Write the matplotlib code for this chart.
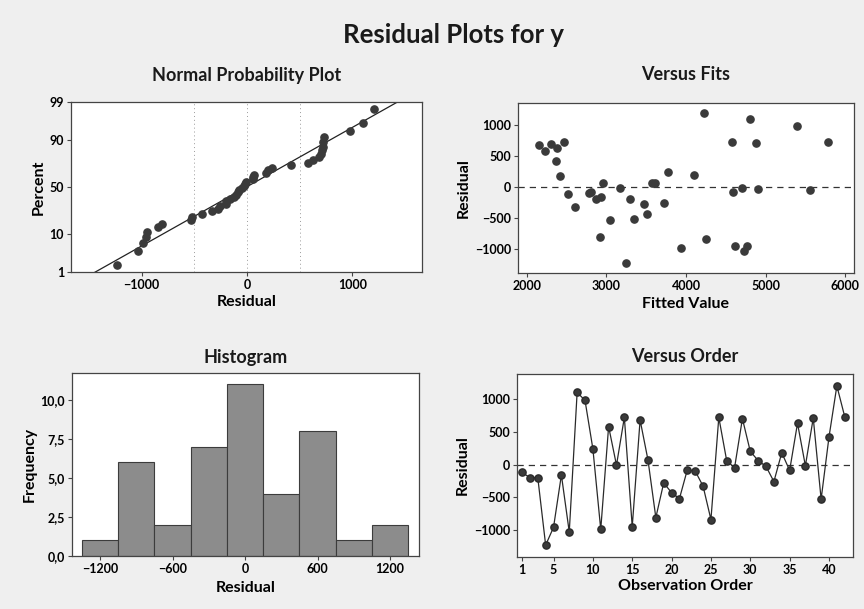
import numpy as np
import matplotlib
matplotlib.use("Agg")
from matplotlib import pyplot as plt
from statistics import NormalDist

plt.rcParams['font.family'] = ['Lato', 'DejaVu Sans']
plt.rcParams['font.weight'] = 'bold'

# residuals in observation order
residuals = np.array([-120, -200, -200, -1230, -960, -160, -1030, 1100, 980, 240,
                      -990, 580, -10, 720, -950, 680, 70, -810, -280, -430,
                      -520, -80, -100, -330, -840, 720, 60, -50, 700, 200,
                      60, -30, -260, 180, -90, 630, -20, 710, -530, 420,
                      1200, 730])
# fitted values paired with the residuals above
fitted = np.array([2520, 2870, 3290, 3250, 4620, 2930, 4730, 4810, 5400, 3770,
                   3940, 2230, 3170, 2460, 4770, 2150, 2950, 2920, 3470, 3510,
                   3340, 2810, 2780, 2600, 4250, 4580, 3570, 5560, 2300, 4100,
                   3610, 4900, 3720, 2420, 4590, 2380, 4700, 4880, 3040, 2360,
                   4230, 5790])
order = np.arange(1, len(residuals) + 1)

pct_ticks = [1, 10, 50, 90, 99]
hist_edges = np.arange(-1350, 1351, 300)
hist_ticks = [-1200, -600, 0, 600, 1200]
hist_yticks = [0.0, 2.5, 5.0, 7.5, 10.0]
fit_ticks = [2000, 3000, 4000, 5000, 6000]
order_ticks = [1, 5, 10, 15, 20, 25, 30, 35, 40]
res_ticks = [-1000, -500, 0, 500, 1000]

bg = '#efefef'
dot = '#3a3a3a'
nd = NormalDist()
LBL = 11.5
SUB = 13

fig = plt.figure(figsize=(8.64, 6.09), dpi=100, facecolor=bg)
W, H = 864, 609

def make_ax(x0, y0, x1, y1, title, ty):
    ax = fig.add_axes([x0 / W, 1 - y1 / H, (x1 - x0) / W, (y1 - y0) / H])
    ax.set_facecolor('white')
    for s in ax.spines.values():
        s.set_color('#444444')
        s.set_linewidth(0.9)
    ax.tick_params(labelsize=9, length=3, width=0.8, color='#444444', pad=2)
    fig.text((x0 + x1) / 2 / W, 1 - ty / H, title, ha='center', va='center',
             fontsize=SUB, fontweight='bold', color='#1a1a1a')
    return ax

def style_labels(ax):
    for lab in ax.get_xticklabels() + ax.get_yticklabels():
        lab.set_fontweight('bold')

fig.text(454 / W, 1 - 35 / H, 'Residual Plots for y', ha='center', va='center',
         fontsize=18.5, fontweight='bold', color='#1a1a1a')

# Normal probability plot
ax1 = make_ax(71, 102, 422, 272, 'Normal Probability Plot', 75)
n = len(residuals)
srt = np.sort(residuals)
p = (np.arange(1, n + 1) - 0.3) / (n + 0.4)
z = np.array([nd.inv_cdf(v) for v in p])
mu, sd = residuals.mean(), residuals.std(ddof=1)
ax1.set_xlim(-1670, 1660)
ax1.set_ylim(nd.inv_cdf(0.01), nd.inv_cdf(0.99))
for gx in [-500, 0, 500]:
    ax1.axvline(gx, color='#9a9a9a', lw=0.7, ls=(0, (1, 3)), zorder=0)
xl = np.array([-2000, 2000])
ax1.plot(xl, (xl - mu) / sd, color='#222222', lw=0.9)
ax1.plot(srt, z, 'o', color=dot, ms=5.2, zorder=3)
ax1.set_yticks([nd.inv_cdf(v / 100) for v in pct_ticks])
ax1.set_yticklabels([str(v) for v in pct_ticks])
ax1.set_xticks([-1000, 0, 1000])
ax1.set_xlabel('Residual', fontsize=LBL, fontweight='bold', labelpad=3)
ax1.set_ylabel('Percent', fontsize=LBL, fontweight='bold', labelpad=3)
style_labels(ax1)

# Versus fits
ax2 = make_ax(518, 103, 854, 273, 'Versus Fits', 75)
ax2.set_xlim(1887, 6113)
ax2.set_ylim(-1390, 1355)
ax2.axhline(0, color='#333333', lw=0.9, ls=(0, (5, 4)))
ax2.plot(fitted, residuals, 'o', color=dot, ms=5.2, zorder=3)
ax2.set_xticks(fit_ticks)
ax2.set_yticks(res_ticks)
ax2.set_xlabel('Fitted Value', fontsize=LBL, fontweight='bold', labelpad=4)
ax2.set_ylabel('Residual', fontsize=LBL, fontweight='bold', labelpad=3)
style_labels(ax2)

# Histogram
ax3 = make_ax(72, 373, 419, 556, 'Histogram', 357)
ax3.hist(residuals, bins=hist_edges, color='#8c8c8c', edgecolor='#3c3c3c', linewidth=0.8)
ax3.set_xlim(-1432, 1440)
ax3.set_ylim(0, 11.73)
ax3.set_xticks(hist_ticks)
ax3.set_yticks(hist_yticks)
ax3.set_yticklabels([f'{v:.1f}'.replace('.', ',') for v in hist_yticks])
ax3.set_xlabel('Residual', fontsize=LBL, fontweight='bold', labelpad=4)
ax3.set_ylabel('Frequency', fontsize=LBL, fontweight='bold', labelpad=3)
style_labels(ax3)

# Versus order
ax4 = make_ax(517, 374, 853, 557, 'Versus Order', 357)
ax4.set_xlim(0.36, 43.05)
ax4.set_ylim(-1412, 1382)
ax4.axhline(0, color='#333333', lw=0.9, ls=(0, (5, 4)))
ax4.plot(order, residuals, '-o', color='#2a2a2a', lw=0.9, ms=5.2,
         markerfacecolor=dot, markeredgecolor='#2a2a2a', zorder=3)
ax4.set_xticks(order_ticks)
ax4.set_yticks(res_ticks)
ax4.set_xlabel('Observation Order', fontsize=LBL, fontweight='bold', labelpad=2)
ax4.set_ylabel('Residual', fontsize=LBL, fontweight='bold', labelpad=3)
style_labels(ax4)

fig.savefig('out.png', dpi=100, facecolor=bg)
